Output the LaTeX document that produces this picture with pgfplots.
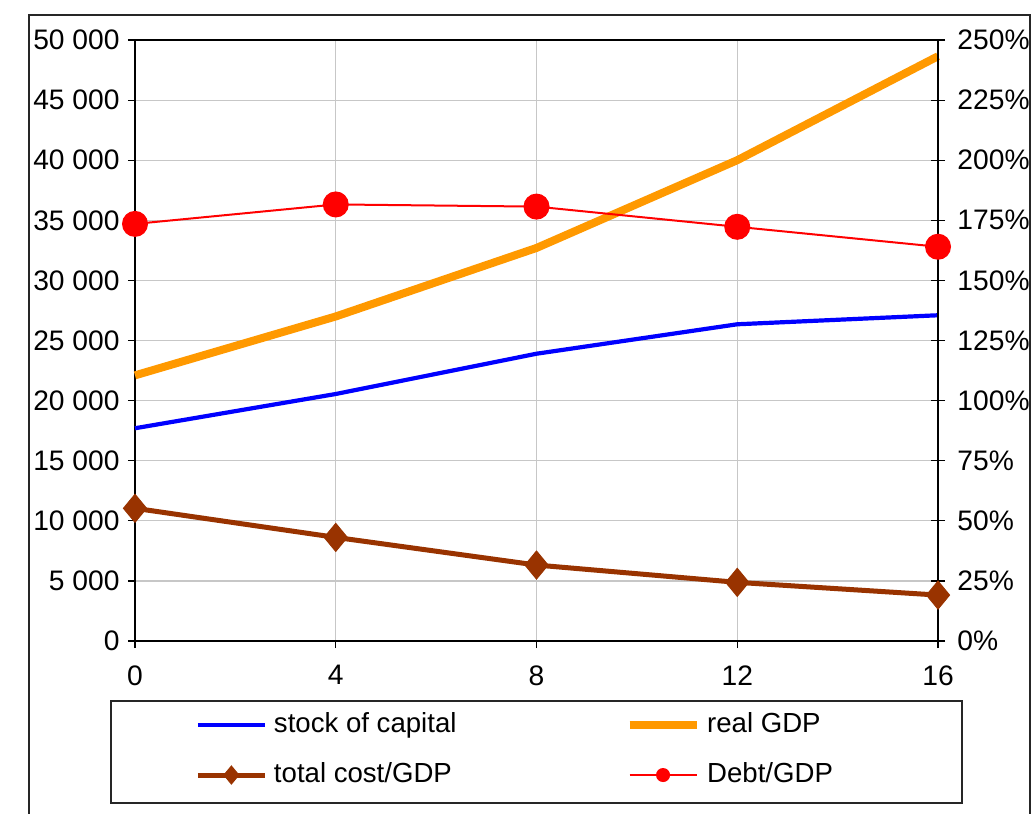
\documentclass[border=0pt]{standalone}
\usepackage{fontspec}
\setmainfont{Liberation Sans}
\usepackage{pgfplots}
\pgfplotsset{compat=1.18}
\definecolor{cblue}{HTML}{0000FF}
\definecolor{corange}{HTML}{FF9900}
\definecolor{cbrown}{HTML}{993300}
\definecolor{cred}{HTML}{FF0000}
\begin{document}
\fontsize{13.6}{16}\selectfont
\begin{tikzpicture}
\path[use as bounding box] (0,0) rectangle (515.5pt,-406.5pt);
\draw[line width=0.8pt, black!85] (14.5pt,-7.5pt) rectangle (515pt,-430pt);
\draw[line width=0.7pt, black!85] (55.5pt,-350.5pt) rectangle (481pt,-401.4pt);
\begin{axis}[
  at={(67.5pt,-320.5pt)}, anchor=south west,
  scale only axis, width=401.5pt, height=300.5pt,
  xmin=0, xmax=16, ymin=0, ymax=50000,
  xtick={0,4,8,12,16}, ytick={0,5000,...,50000},
  xtick pos=left, ytick pos=left,
  tick align=outside, major tick length=3.5pt,
  tick style={black, line width=0.6pt},
  axis line style={black!50, line width=0.8pt},
  y axis line style={black},
  x axis line style={black!55},
  grid=major, major grid style={black!22, line width=0.6pt},
  scaled y ticks=false,
  /pgf/number format/assume math mode=true,
  /pgf/number format/1000 sep={\ },
  ticklabel style={font=\fontsize{14.1}{16}\selectfont},
  yticklabel style={xshift=0.5pt},
  xticklabel style={yshift=-4pt},
  clip=false,
]
\addplot[cblue, line width=2.1pt] coordinates {(0,17700)(4,20550)(8,23900)(12,26350)(16,27100)};
\addplot[corange, line width=4pt] coordinates {(0,22100)(4,27000)(8,32700)(12,40000)(16,48650)};
\end{axis}
\begin{axis}[
  at={(67.5pt,-320.5pt)}, anchor=south west,
  scale only axis, width=401.5pt, height=300.5pt,
  xmin=0, xmax=16, ymin=0, ymax=250,
  axis x line=none, axis y line*=right,
  ytick={0,25,...,250},
  yticklabel={\pgfmathprintnumber{\tick}\%},
  tick align=center, major tick length=7pt,
  tick style={black, line width=0.6pt},
  y axis line style={black, line width=0.8pt},
  /pgf/number format/assume math mode=true,
  ticklabel style={font=\fontsize{14.1}{16}\selectfont},
  yticklabel style={xshift=1.5pt},
  clip=false,
  legend columns=2,
  legend image code/.code={\draw[mark repeat=2,mark phase=2] plot coordinates {(0pt,0pt) (16.75pt,0pt) (33.5pt,0pt)};},
  legend style={draw=none, fill=none, inner sep=0pt,
    at={(0.0747,-0.1814)}, anchor=west,
    font=\fontsize{13.8}{16}\selectfont,
    nodes={inner sep=0pt, text height=10pt, text depth=3pt},
    row sep=12pt, column sep=3.3pt,
    /tikz/every even column/.append style={column sep=84.5pt}},
  legend cell align=left,
]
\addlegendimage{cblue, line width=2.1pt}
\addlegendentry{stock of capital}
\addlegendimage{corange, line width=4pt}
\addlegendentry{real GDP}
\addplot[cbrown, line width=2.5pt, mark=diamond*, mark size=7pt, mark options={solid, xscale=1.1, fill=cbrown, draw=cbrown, line width=0.5pt},
  legend image post style={mark size=4.5pt}] coordinates {(0,55.2)(4,43.1)(8,31.6)(12,24.4)(16,19.1)};
\addlegendentry{total cost/GDP}
\addplot[cred, line width=1pt, mark=*, mark size=6pt, mark options={solid, fill=cred, draw=cred},
  legend image post style={mark size=3pt}] coordinates {(0,173.5)(4,181.6)(8,180.7)(12,172.3)(16,164.0)};
\addlegendentry{Debt/GDP}
\end{axis}
\end{tikzpicture}
\end{document}
